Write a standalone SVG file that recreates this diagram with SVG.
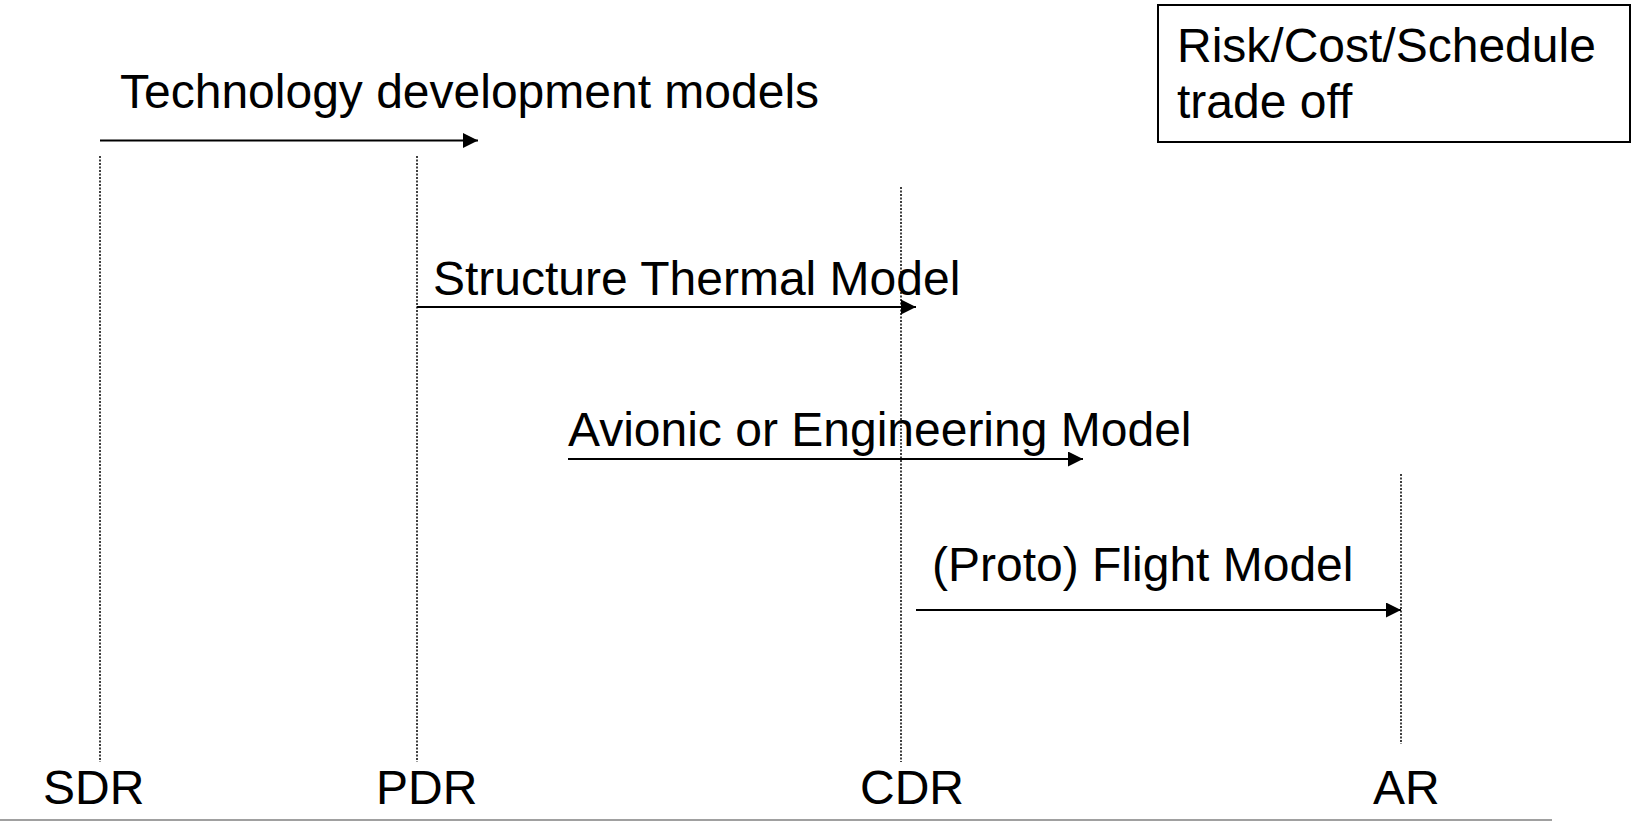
<svg xmlns="http://www.w3.org/2000/svg" width="1632" height="821" viewBox="0 0 1632 821">
<style>
text{font-family:"Liberation Sans",Arial,sans-serif;font-size:48px;fill:#000}
.ms{stroke:#000;stroke-width:1.5;stroke-dasharray:2 1.5;fill:none}
.ar{stroke:#000;stroke-width:2;fill:none;marker-end:url(#ah)}
</style>
<defs>
<marker id="ah" markerUnits="userSpaceOnUse" markerWidth="16" markerHeight="16" refX="15" refY="7.5" orient="auto">
<path d="M0,0 L15,7.5 L0,15 Z" fill="#000"/>
</marker>
</defs>
<rect width="1632" height="821" fill="#fff"/>
<g id="milestones">
<line class="ms" x1="100" y1="156" x2="100" y2="762"/>
<line class="ms" x1="417" y1="156" x2="417" y2="762"/>
<line class="ms" x1="901" y1="187" x2="901" y2="762"/>
<line class="ms" x1="1401" y1="474" x2="1401" y2="744"/>
</g>
<g id="connectors">
<line class="ar" x1="100" y1="140.5" x2="478" y2="140.5"/>
<line class="ar" x1="417" y1="307" x2="916" y2="307"/>
<line class="ar" x1="568" y1="459" x2="1083" y2="459"/>
<line class="ar" x1="916" y1="610" x2="1401" y2="610"/>
</g>
<g id="tech"><text x="120" y="108">Technology development models</text></g>
<g id="stm"><text x="433" y="295">Structure Thermal Model</text></g>
<g id="em"><text x="568" y="446">Avionic or Engineering Model</text></g>
<g id="fm"><text x="932" y="581">(Proto) Flight Model</text></g>
<g id="risk">
<rect x="1158" y="5" width="472" height="137" fill="#fff" stroke="#000" stroke-width="2"/>
<text x="1177" y="62">Risk/Cost/Schedule</text>
<text x="1177" y="118">trade off</text>
</g>
<g id="sdr"><text x="43" y="804">SDR</text></g>
<g id="pdr"><text x="376" y="804">PDR</text></g>
<g id="cdr"><text x="860" y="804">CDR</text></g>
<g id="ar"><text x="1373" y="804">AR</text></g>
<line x1="0" y1="820" x2="1552" y2="820" stroke="#a0a0a0" stroke-width="2"/>
</svg>
